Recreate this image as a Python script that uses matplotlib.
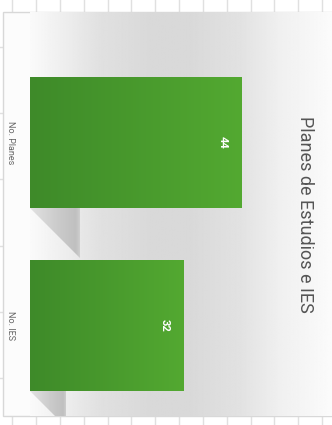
import numpy as np
import matplotlib
matplotlib.use('Agg')
import matplotlib.pyplot as plt
from matplotlib.colors import LinearSegmentedColormap
from matplotlib.patches import Rectangle, Polygon

# chart content
categories = ['No. Planes', 'No. IES']
values = [44, 32]
title = 'Planes de Estudios e IES'

W, H = 332, 425
plt.rcParams['font.family'] = ['Roboto', 'DejaVu Sans']

fig = plt.figure(figsize=(W / 100, H / 100), dpi=100)
fig.patch.set_facecolor('white')

# page grid behind the chart panel (pixel coordinates)
bg = fig.add_axes([0, 0, 1, 1], zorder=0)
bg.set_xlim(0, W)
bg.set_ylim(H, 0)
bg.axis('off')
for gx in np.arange(12.3, W, 23.83):
    bg.axvline(gx, color='#e0e0e0', lw=1, zorder=1)
for gy in np.arange(47, H - 20, 66.2):
    bg.axhline(gy, color='#e0e0e0', lw=1, zorder=1)
bg.add_patch(Rectangle((3, 11.7), W, 404.3, facecolor='#fcfcfc',
                       edgecolor='#d8d8d8', lw=1, zorder=3))

# plot area
ax = fig.add_axes([30 / W, (H - 416) / H, (W - 30) / W, (416 - 11.7) / H], zorder=1)
px_per_unit = 4.8
xmax = (W - 30) / px_per_unit
bar_h = 0.716
for s in ax.spines.values():
    s.set_visible(False)
ax.set_xticks([])
ax.set_yticks([])

# background: light at both ends, grey in the middle
t = np.linspace(0, W - 30, 400)
lvl = np.interp(t, [0, 40, 70, 120, 160, 210, 250, 302],
                [0.98, 0.925, 0.88, 0.85, 0.85, 0.885, 0.94, 0.985])
ax.imshow(np.repeat(lvl[None, :], 2, axis=0), cmap='gray', vmin=0, vmax=1,
          extent=[0, xmax, 1.495, -0.715], aspect='auto', zorder=0,
          interpolation='bilinear')

green = LinearSegmentedColormap.from_list('grn', ['#3e8a29', '#53a931'])
shade = LinearSegmentedColormap.from_list(
    'shd', [(0, '#e2e2e2'), (0.55, '#cbcbcb'), (0.9, '#c0c0c0'), (1, '#d2d2d2')])
grad = np.linspace(0, 1, 256)[None, :]

bars = ax.barh(range(len(values)), values, height=bar_h, color='none', zorder=3)
for i, (b, v) in enumerate(zip(bars, values)):
    # folded-corner shadow under the bar
    dx = 0.237 * v
    dy = dx * px_per_unit / 183
    yb = i + bar_h / 2
    tri = Polygon([(0, yb), (dx, yb), (dx, yb + dy)], closed=True,
                  facecolor='none', edgecolor='none')
    ax.add_patch(tri)
    im = ax.imshow(grad, cmap=shade, extent=[0, dx, yb + dy, yb],
                   aspect='auto', zorder=2, interpolation='bilinear')
    im.set_clip_path(tri)

    im = ax.imshow(grad, cmap=green, extent=[0, v, i + bar_h / 2, i - bar_h / 2],
                   aspect='auto', zorder=3, interpolation='bilinear')
    im.set_clip_path(b)

    ax.annotate(str(v), xy=(v, i), xytext=(-19 * 0.72, 0),
                textcoords='offset points', rotation=-90, ha='center',
                va='center', color='white', fontweight='bold', fontsize=8,
                zorder=4)

    ax.text(-20 / (W - 30), i, categories[i], transform=ax.get_yaxis_transform(),
            rotation=-90, ha='center', va='center', color='#666666', fontsize=6.5)

ax.set_xlim(0, xmax)
ax.set_ylim(1.495, -0.715)

fig.text(305 / W, 1 - 214 / H, title, rotation=-90, ha='center', va='center',
         color='#555555', fontsize=13)

fig.savefig('out.png', dpi=100)
